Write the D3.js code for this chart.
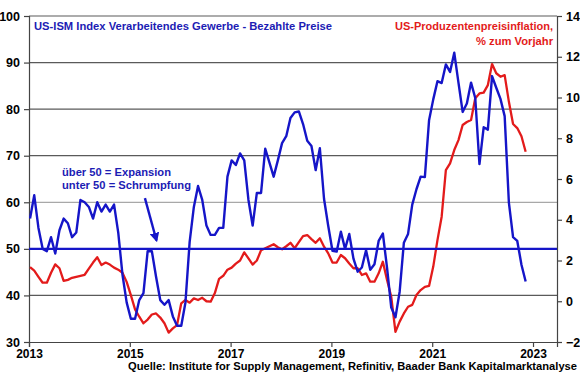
<!DOCTYPE html>
<html><head><meta charset="utf-8">
<script src="https://cdn.jsdelivr.net/npm/d3@7"></script>
<style>
html,body{margin:0;padding:0;background:#fff;}
svg{display:block;font-family:"Liberation Sans",Arial,sans-serif;font-weight:bold;}
</style></head>
<body>
<svg id="c" width="580" height="375"></svg>
<script>
// ---- data (monthly, Jan 2013 .. Nov 2022) ----
const startYear = 2013;
const ismPrices = [
  56.5,61.5,54.5,50.0,49.5,52.5,49.0,54.0,56.5,55.5,52.5,53.5,
  60.5,60.0,59.0,56.5,60.0,58.0,59.5,58.0,59.5,53.5,44.5,38.5,
  35.0,35.0,39.0,40.5,49.5,49.5,44.0,39.0,38.0,39.0,35.5,33.5,
  33.5,38.5,51.5,59.0,63.5,60.5,55.0,53.0,53.0,54.5,54.5,65.5,
  69.0,68.0,70.5,69.0,60.5,55.0,62.0,62.0,71.5,68.5,65.5,69.0,
  72.7,74.2,78.1,79.3,79.5,76.8,73.2,72.1,66.9,71.6,60.7,54.9,
  49.6,49.4,53.7,50.0,53.2,47.9,45.1,46.0,49.7,45.5,46.7,51.7,
  53.3,45.9,37.4,35.3,40.8,51.3,53.2,59.5,62.8,65.5,65.4,77.6,
  82.1,86.0,85.6,89.6,88.0,92.1,85.7,79.4,81.2,85.7,82.4,68.2,
  76.1,75.6,87.1,84.6,82.2,78.5,60.0,52.5,51.7,46.6,43.0
];
const ppiYoY = [
  1.67,1.50,1.20,0.91,0.91,1.40,1.81,1.62,1.00,1.05,1.15,1.20,
  1.25,1.30,1.60,1.90,2.16,1.78,1.90,1.80,1.65,1.55,1.40,0.95,
  0.30,-0.40,-0.76,-1.08,-0.90,-0.65,-0.60,-0.80,-1.08,-1.54,-1.33,-1.17,
  -0.10,0.06,-0.07,0.14,0.06,0.17,0.00,-0.02,0.40,1.10,1.25,1.55,
  1.65,1.85,2.00,2.40,2.10,1.80,2.00,2.50,2.60,2.70,2.80,2.65,
  2.55,2.70,2.87,2.60,2.90,3.20,3.25,3.05,2.87,3.09,2.68,2.35,
  1.90,1.90,2.27,2.11,1.85,1.62,1.62,1.29,1.37,0.96,0.96,1.37,
  1.94,1.04,0.22,-1.50,-1.00,-0.60,-0.27,-0.18,0.31,0.55,0.71,0.75,
  1.70,3.00,4.15,6.44,6.77,7.42,7.91,8.65,8.80,8.90,9.96,10.20,
  10.24,10.61,11.64,11.19,11.02,11.10,9.80,8.70,8.50,8.10,7.34
];
const leftTicks = [30,40,50,60,70,80,90,100];
const rightTicks = [-2,0,2,4,6,8,10,12,14];
const yearTicks = [2013,2015,2017,2019,2021,2023];
const gridValues = [40,60,70,80,90,100];
const threshold = 50;
const titleLeft = "US-ISM Index Verarbeitendes Gewerbe - Bezahlte Preise";
const titleRight = ["US-Produzentenpreisinflation,", "% zum Vorjahr"];
const noteLines = ["über 50 = Expansion", "unter 50 = Schrumpfung"];
const sourceText = "Quelle: Institute for Supply Management, Refinitiv, Baader Bank Kapitalmarktanalyse";

// ---- layout ----
const L = 29, R = 557, T = 16, B = 342;
const blue = "#1515c8", red = "#e31b1b", textBlue = "#1c1cb4";
const svg = d3.select("#c");

const x = d3.scaleLinear().domain([2013, 2023.476]).range([L, R]);
const yL = d3.scaleLinear().domain([30, 100]).range([B, T]);
const yR = d3.scaleLinear().domain([-2, 14]).range([B, T]);
const tOf = i => startYear + (i + 0.25) / 12;

// gridlines
svg.append("g").selectAll("line").data(gridValues).join("line")
  .attr("x1", L).attr("x2", R)
  .attr("y1", d => yL(d)).attr("y2", d => yL(d))
  .attr("stroke", d => d === 60 ? "#a8a8a8" : "#5a5a5a").attr("stroke-width", 1.2);

// axes
const axL = svg.append("g").attr("transform", `translate(${L},0)`)
  .call(d3.axisLeft(yL).tickValues(leftTicks).tickSize(5).tickPadding(4));
const axR = svg.append("g").attr("transform", `translate(${R},0)`)
  .call(d3.axisRight(yR).tickValues(rightTicks).tickSize(5).tickPadding(4));
const axB = svg.append("g").attr("transform", `translate(0,${B})`)
  .call(d3.axisBottom(x).tickValues(yearTicks).tickFormat(d3.format("d")).tickSize(5).tickPadding(2));
[axL, axR, axB].forEach(a => {
  a.select(".domain").attr("stroke", "#444").attr("stroke-width", 1.2);
  a.selectAll(".tick line").attr("stroke", "#444").attr("stroke-width", 1.2);
  a.selectAll("text").attr("fill", "#000").style("font-size", "12.5px")
    .style("font-family", "'Liberation Sans',Arial,sans-serif").style("font-weight", "bold");
});
axB.selectAll("text").style("font-size", "12px");

// red line (PPI, right axis)
svg.append("path").datum(ppiYoY)
  .attr("fill", "none").attr("stroke", red).attr("stroke-width", 2.3).attr("stroke-linejoin", "round")
  .attr("d", d3.line().x((d, i) => x(tOf(i))).y(d => yR(d)));

// 50 line
svg.append("line").attr("x1", L).attr("x2", R)
  .attr("y1", yL(threshold)).attr("y2", yL(threshold))
  .attr("stroke", blue).attr("stroke-width", 2.2);

// blue line (ISM prices)
svg.append("path").datum(ismPrices)
  .attr("fill", "none").attr("stroke", blue).attr("stroke-width", 2.4).attr("stroke-linejoin", "round")
  .attr("d", d3.line().x((d, i) => x(tOf(i))).y(d => yL(d)));

// texts (start-anchored, fitted width)
function label(txt, xx, yy, color, len, size) {
  return svg.append("text").attr("x", xx).attr("y", yy).attr("fill", color)
    .style("font-size", (size || 12.5) + "px")
    .attr("textLength", len).attr("lengthAdjust", "spacingAndGlyphs")
    .text(txt);
}
label(titleLeft, 34, 30, textBlue, 298, 11.5);
label(titleRight[0], 395, 30, red, 158, 11);
label(titleRight[1], 476, 45, red, 77, 11.5);

// annotation
label(noteLines[0], 62, 176, textBlue, 109, 11.5);
label(noteLines[1], 62, 189, textBlue, 129, 11.5);

const defs = svg.append("defs");
defs.append("marker").attr("id", "ah").attr("viewBox", "0 0 10 10")
  .attr("refX", 8).attr("refY", 5).attr("markerWidth", 4).attr("markerHeight", 4)
  .attr("orient", "auto")
  .append("path").attr("d", "M0,0 L10,5 L0,10 z").attr("fill", blue);
svg.append("line")
  .attr("x1", x(2015.30)).attr("y1", yL(60.9))
  .attr("x2", x(2015.53)).attr("y2", yL(51.8))
  .attr("stroke", blue).attr("stroke-width", 2.4).attr("marker-end", "url(#ah)");

// source
label(sourceText, 128, 369.5, "#000", 449, 10.5);
</script>
</body></html>
